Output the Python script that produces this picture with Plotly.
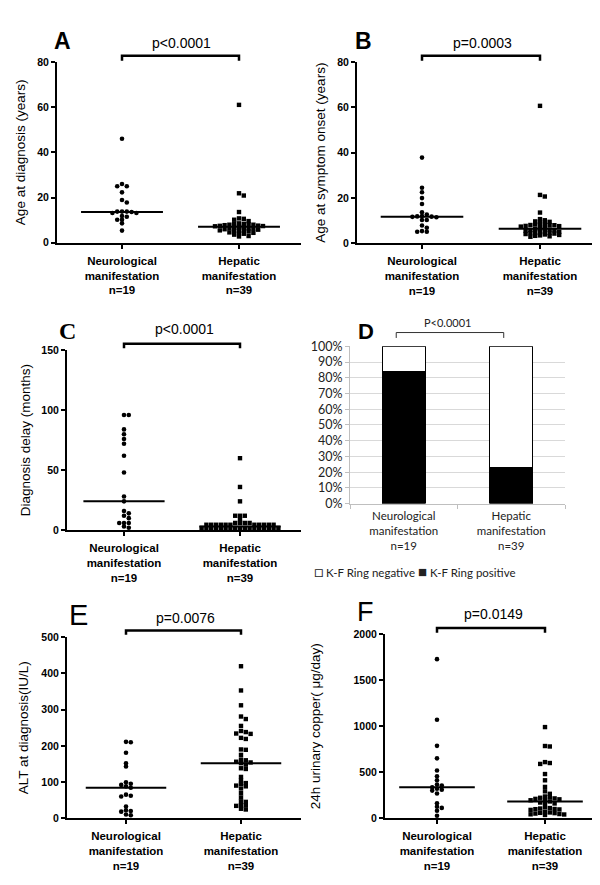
import math
import numpy as np
import plotly.graph_objects as go

# ---------------- data ----------------
group_labels = ["Neurological<br>manifestation<br>n=19", "Hepatic<br>manifestation<br>n=39"]

# A: age at diagnosis (years)
neuro_age_dx = [46, 26, 25, 25, 22.3, 18.9, 17.8, 13.8, 13.8, 13.6, 13.8, 13.2, 13.2,
                11.8, 11.5, 10.2, 10.2, 8.6, 5.4]
hep_age_dx = [61, 21.9, 20.9, 13.6, 10.8, 10.6, 10.2, 9.6, 8.6, 8.4, 8.4, 8.2, 8.0, 8.0,
              7.8, 7.6, 7.5, 7.4, 7.3, 7.1, 6.8, 6.6, 6.4, 6.4, 6.2, 6.0, 5.8, 5.6, 5.5,
              5.4, 5.2, 5.0, 4.6, 4.4, 4.2, 4.0, 3.6, 3.0, 2.8]
median_age_dx = [13.6, 7.1]

# B: age at symptom onset (years)
neuro_age_onset = [37.8, 24.5, 22.5, 19.9, 17.3, 13.6, 12.6, 12.0, 11.8, 11.7, 11.6, 11.4,
                   10.2, 10.2, 7.8, 6.8, 5.3, 5.0, 5.0]
hep_age_onset = [60.7, 21.3, 20.6, 13.5, 10.6, 10.1, 9.6, 9.4, 9.2, 8.4, 8.2, 8.0, 8.0, 7.9,
                 7.8, 7.6, 7.5, 7.3, 6.8, 6.3, 6.2, 6.0, 5.8, 5.6, 5.5, 5.2, 5.0, 4.8, 4.6,
                 4.5, 4.4, 4.2, 4.0, 3.8, 3.6, 3.4, 3.2, 3.0, 2.8]
median_age_onset = [11.7, 6.3]

# C: diagnosis delay (months)
neuro_delay = [96, 96, 84, 80, 76, 72, 62, 48, 28, 24, 16, 14, 12, 10, 6, 6, 6, 3, 2]
hep_delay = [60, 36, 24, 12, 12, 12, 9, 6, 6, 6, 6,
             4.5, 4.5, 4.5, 4.5, 4.5, 4.5, 4.5, 4.5, 4.5, 4.5, 4.5,
             1.8, 1.8, 1.8, 1.8, 1.8, 1.8, 1.8, 1.8, 1.8, 1.8, 1.8, 1.8, 1.8, 1.8,
             1.8, 1.8, 1.8]
median_delay = [24, 3]

# D: K-F ring (% of patients)
kf_positive = [84.2, 23.1]
kf_negative = [15.8, 76.9]

# E: ALT at diagnosis (IU/L)
neuro_alt = [211, 210, 181, 152, 143, 99, 95, 92, 88, 84, 65, 62, 60, 32, 22, 20, 18, 10, 8]
hep_alt = [420, 353, 312, 281, 274, 255, 241, 238, 234, 233, 222, 219, 190, 189, 175, 162,
           160, 156, 154, 152, 148, 138, 136, 114, 104, 97, 95, 90, 88, 82, 69, 57, 46, 45,
           36, 35, 34, 26, 24]
median_alt = [84, 152]

# F: 24h urinary copper (ug/day)
neuro_cu = [1730, 1070, 787, 651, 519, 455, 412, 365, 355, 337, 320, 310, 300, 268, 161,
            125, 112, 80, 26]
hep_cu = [991, 785, 780, 610, 600, 590, 480, 412, 340, 292, 265, 236, 228, 222, 215, 210,
          205, 200, 195, 182, 170, 165, 160, 120, 110, 105, 100, 98, 95, 90, 70, 62, 58, 55,
          50, 45, 42, 40, 35]
median_cu = [337, 182]

# ---------------- layout helpers ----------------
W, H = 600, 885
ARIAL = "Liberation Sans, Arial, sans-serif"
CALIBRI = "Lato, Carlito, Calibri, sans-serif"


def py(y):
    return 1 - y / H


def swarm(vals, px_per_unit, px_per_cat, d=4.8, h=3.2):
    """Column-scatter offsets (category units): dots in the same value band spread sideways."""
    vals = np.asarray(vals, float)
    order = np.argsort(-vals, kind="stable")
    placed = []
    offs = np.zeros(len(vals))
    for i in order:
        y = vals[i] * px_per_unit
        near = [xj for xj, yj in placed if abs(y - yj) < h]
        cands = [0.0] + [xj + d for xj in near] + [xj - d for xj in near]
        cands.sort(key=lambda c: (round(abs(c), 6), -c))
        chosen = cands[-1]
        for c in cands:
            if all(abs(c - xj) >= d - 1e-6 for xj in near):
                chosen = c
                break
        placed.append((chosen, y))
        offs[i] = chosen / px_per_cat
    return offs


fig = go.Figure()

scatter_panels = [
    dict(n=1, neuro=neuro_age_dx, hep=hep_age_dx, med=median_age_dx,
         title="Age at diagnosis (years)", ymax=80, dtick=20, standoff=8,
         g=(49, 293, 46.7, 230.7, 114, 231), letter="A", lxy=(55, 25),
         lfont=dict(family=ARIAL, size=23, weight="bold"),
         p="p<0.0001", pxy=(173, 27), br=(40.5, 45.5)),
    dict(n=2, neuro=neuro_age_onset, hep=hep_age_onset, med=median_age_onset,
         title="Age at symptom onset (years)", ymax=80, dtick=20, standoff=8,
         g=(349, 593, 47, 231, 414, 532), letter="B", lxy=(355, 25),
         lfont=dict(family=ARIAL, size=23, weight="bold"),
         p="p=0.0003", pxy=(474, 27), br=(40.5, 45.5)),
    dict(n=3, neuro=neuro_delay, hep=hep_delay, med=median_delay,
         title="Diagnosis delay (months)", ymax=150, dtick=50, standoff=8,
         g=(59, 293, 340, 523, 116, 232), letter="C", lxy=(59, 320),
         lfont=dict(family="Liberation Serif, serif", size=24, weight="bold"),
         p="p<0.0001", pxy=(176, 318), br=(333.5, 338)),
    dict(n=5, neuro=neuro_alt, hep=hep_alt, med=median_alt,
         title="ALT at diagnosis(IU/L)", ymax=500, dtick=100, standoff=10,
         g=(59, 293, 632, 816, 118, 233), letter="E", lxy=(70, 609),
         lfont=dict(family=ARIAL, size=29),
         p="p=0.0076", pxy=(177, 612), br=(625, 629.5)),
    dict(n=6, neuro=neuro_cu, hep=hep_cu, med=median_cu,
         title="24h urinary copper( μg/day)", ymax=2000, dtick=500, standoff=30,
         g=(377, 593, 629, 816, 429, 537), letter="F", lxy=(357, 606),
         lfont=dict(family=ARIAL, size=27),
         p="p=0.0149", pxy=(485, 608), br=(622.5, 627.5)),
]

annotations = []
shapes = []

for P in scatter_panels:
    n = P["n"]
    left, right, top, bottom, c0, c1 = P["g"]
    unit = c1 - c0
    px_per_unit = (bottom - top) / P["ymax"]
    xname = "x" if n == 1 else f"x{n}"
    yname = "y" if n == 1 else f"y{n}"
    for gi, (vals, sym, sz) in enumerate([(P["neuro"], "circle", 4.6), (P["hep"], "square", 4.4)]):
        offs = swarm(vals, px_per_unit, unit)
        fig.add_trace(go.Scatter(
            x=gi + offs, y=vals, mode="markers", xaxis=xname, yaxis=yname,
            marker=dict(symbol=sym, size=sz, color="black", line=dict(width=0)),
            cliponaxis=False, showlegend=False, hoverinfo="y"))
        fig.add_trace(go.Scatter(
            x=[gi - 0.35, gi + 0.35], y=[P["med"][gi]] * 2, mode="lines",
            xaxis=xname, yaxis=yname, line=dict(color="black", width=2),
            showlegend=False, hoverinfo="skip"))
    axkey = "" if n == 1 else str(n)
    fig.layout["xaxis" + axkey] = dict(
        domain=[left / W, right / W], anchor=yname,
        range=[(left - c0) / unit, (right - c0) / unit],
        tickmode="array", tickvals=[0, 1], ticktext=group_labels,
        showline=True, linecolor="black", linewidth=2,
        ticks="outside", ticklen=4, tickwidth=2, tickcolor="black",
        tickfont=dict(family=ARIAL, size=11.5, color="black", weight="bold"),
        ticklabelstandoff=2,
        showgrid=False, zeroline=False, fixedrange=True)
    fig.layout["yaxis" + axkey] = dict(
        domain=[py(bottom), py(top)], anchor=xname,
        range=[0, P["ymax"]], dtick=P["dtick"], tick0=0,
        showline=True, linecolor="black", linewidth=2,
        ticks="outside", ticklen=4, tickwidth=2, tickcolor="black",
        tickfont=dict(family=ARIAL, size=10.5, color="black", weight="bold"),
        title=dict(text=P["title"], font=dict(family=ARIAL, size=13.5, color="black"),
                   standoff=P["standoff"]),
        showgrid=False, zeroline=False, fixedrange=True)
    # significance bracket
    yt, yb = P["br"]
    shapes.append(dict(type="path", xref=xname, yref="paper",
                       path=f"M 0,{py(yb)} L 0,{py(yt)} L 1,{py(yt)} L 1,{py(yb)}",
                       line=dict(color="black", width=2.5)))
    annotations.append(dict(text=P["p"], x=P["pxy"][0] / W, y=py(P["pxy"][1]),
                            xref="paper", yref="paper", showarrow=False,
                            xanchor="center", yanchor="middle",
                            font=dict(family=ARIAL, size=14, color="black")))
    annotations.append(dict(text=P["letter"], x=P["lxy"][0] / W, y=py(P["lxy"][1]),
                            xref="paper", yref="paper", showarrow=False,
                            xanchor="center", yanchor="middle",
                            font=dict(color="black", **P["lfont"])))

# ---------------- panel D: stacked 100% bars ----------------
dl, dr, dt, db = 342, 557, 336, 496
fig.add_trace(go.Bar(x=group_labels, y=kf_positive, name="K-F Ring positive",
                     marker=dict(color="black", line=dict(color="black", width=1.2)),
                     width=0.4, xaxis="x4", yaxis="y4", showlegend=False))
fig.add_trace(go.Bar(x=group_labels, y=kf_negative, name="K-F Ring negative",
                     marker=dict(color="white", line=dict(color="black", width=1.2)),
                     width=0.4, xaxis="x4", yaxis="y4", showlegend=False))
fig.layout["xaxis4"] = dict(
    domain=[dl / W, dr / W], anchor="y4", type="category",
    showline=True, linecolor="#bfbfbf", linewidth=1,
    ticks="outside", ticklen=4, tickcolor="#bfbfbf", tickson="boundaries",
    tickfont=dict(family=CALIBRI, size=11.5, color="#222222"),
    ticklabelstandoff=2, showgrid=False, zeroline=False, fixedrange=True)
fig.layout["yaxis4"] = dict(
    domain=[py(db), py(dt)], anchor="x4", range=[0, 100], dtick=10, ticksuffix="%",
    showline=True, linecolor="#bfbfbf", linewidth=1,
    ticks="outside", ticklen=4, tickcolor="#bfbfbf",
    showgrid=True, gridcolor="#d9d9d9", gridwidth=1,
    tickfont=dict(family=CALIBRI, size=12.5, color="#222222"),
    zeroline=False, fixedrange=True)
shapes.append(dict(type="path", xref="x4", yref="paper",
                   path=f"M -0.07,{py(327.5)} L -0.07,{py(322)} L 0.93,{py(322)} L 0.93,{py(327.5)}",
                   line=dict(color="#333333", width=1)))
annotations.append(dict(text="P<0.0001", x=440 / W, y=py(312), xref="paper", yref="paper",
                        showarrow=False, xanchor="center", yanchor="middle",
                        font=dict(family=CALIBRI, size=11, color="#222222")))
annotations.append(dict(text="D", x=357.5 / W, y=py(321), xref="paper", yref="paper",
                        showarrow=False, xanchor="center", yanchor="middle",
                        font=dict(family=ARIAL, size=22, color="black", weight="bold")))
annotations.append(dict(
    text=("<span style='font-size:15px'>□</span> K-F Ring negative "
          "<span style='font-size:15px'>■</span> K-F Ring positive"),
    x=304 / W, y=py(565), xref="paper", yref="paper", showarrow=False,
    xanchor="left", yanchor="middle",
    font=dict(family=CALIBRI, size=11.5, color="#222222")))

fig.update_layout(
    width=W, height=H, margin=dict(l=0, r=0, t=0, b=0),
    paper_bgcolor="white", plot_bgcolor="white",
    barmode="stack", showlegend=False,
    annotations=annotations, shapes=shapes,
)

fig.write_html("out.html")
